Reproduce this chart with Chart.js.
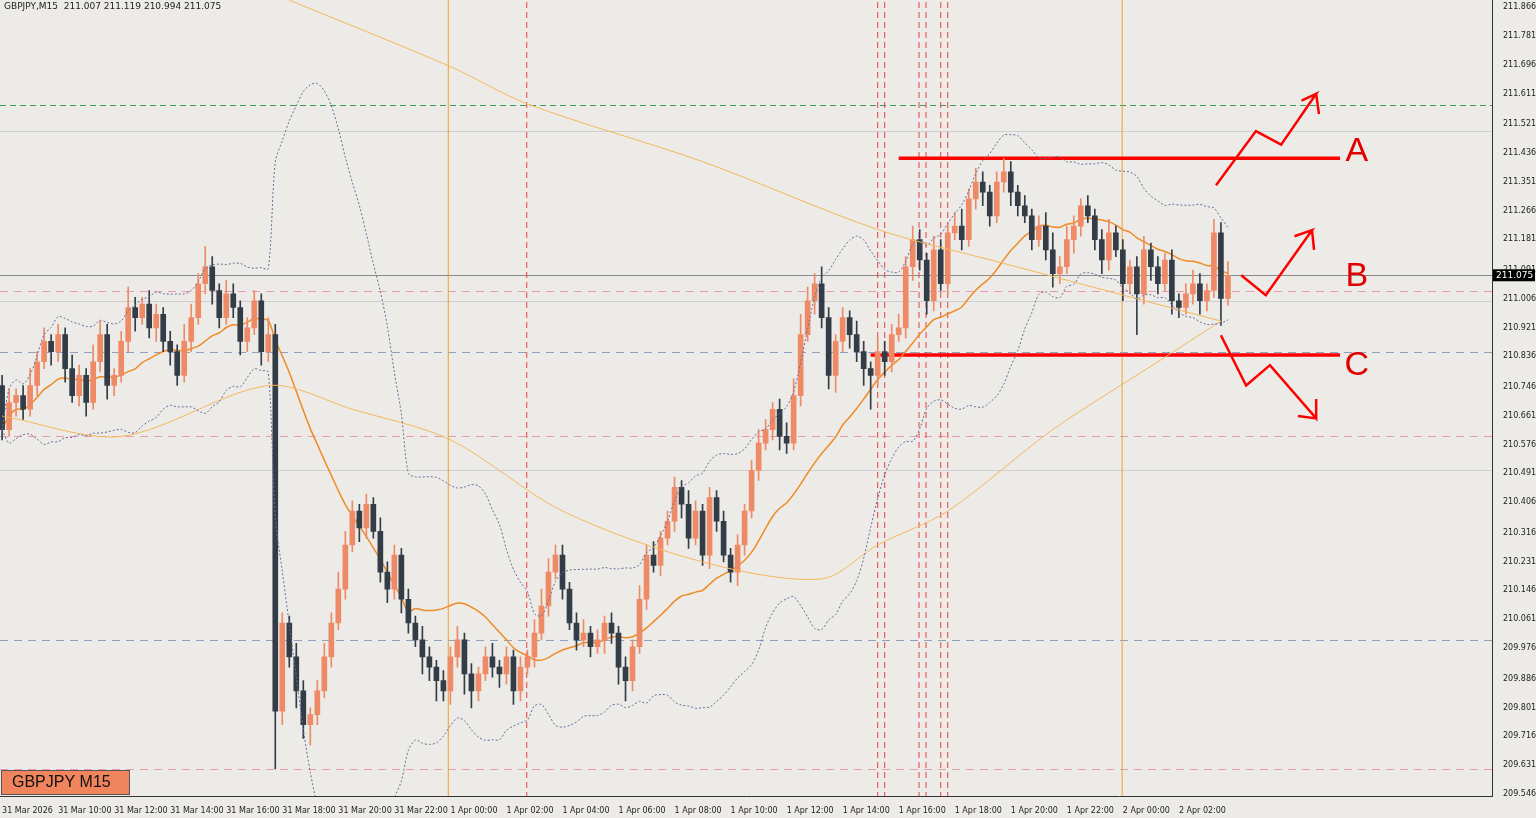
<!DOCTYPE html>
<html><head><meta charset="utf-8">
<script src="https://cdn.jsdelivr.net/npm/chart.js@4.4.1/dist/chart.umd.min.js"></script>
<style>html,body{margin:0;padding:0;background:#ecebe7;overflow:hidden;}#w{width:1536px;height:826px;margin-top:-8px;}</style>
</head><body><div id="w"><canvas id="c"></canvas></div>
<script>
const xLabels=["31 Mar 2026","31 Mar 10:00","31 Mar 12:00","31 Mar 14:00","31 Mar 16:00","31 Mar 18:00","31 Mar 20:00","31 Mar 22:00","1 Apr 00:00","1 Apr 02:00","1 Apr 04:00","1 Apr 06:00","1 Apr 08:00","1 Apr 10:00","1 Apr 12:00","1 Apr 14:00","1 Apr 16:00","1 Apr 18:00","1 Apr 20:00","1 Apr 22:00","2 Apr 00:00","2 Apr 02:00"];
const priceTicks=[211.866,211.781,211.696,211.611,211.521,211.436,211.351,211.266,211.181,211.091,211.006,210.921,210.836,210.746,210.661,210.576,210.491,210.406,210.316,210.231,210.146,210.061,209.976,209.886,209.801,209.716,209.631,209.546];
const closes=[210.62,210.70,210.72,210.68,210.75,210.82,210.88,210.85,
210.90,210.80,210.72,210.78,210.70,210.82,210.90,210.75,
210.78,210.88,210.98,210.95,210.99,210.92,210.96,210.88,
210.85,210.78,210.88,210.95,211.05,211.10,211.03,210.95,
211.02,210.98,210.88,210.92,211.00,210.85,210.90,209.79,
210.05,209.95,209.85,209.75,209.78,209.85,209.95,210.05,
210.15,210.28,210.38,210.33,210.40,210.32,210.20,210.15,
210.25,210.12,210.05,210.00,209.95,209.92,209.88,209.85,
209.95,210.00,209.90,209.85,209.90,209.95,209.92,209.90,
209.95,209.85,209.92,209.95,210.02,210.10,210.20,210.25,
210.15,210.05,210.00,210.02,209.98,210.00,210.05,210.02,
209.92,209.88,209.98,210.12,210.25,210.22,210.30,210.35,
210.45,210.40,210.30,210.38,210.25,210.42,210.35,210.25,
210.20,210.28,210.38,210.50,210.58,210.62,210.68,210.60,
210.58,210.72,210.90,211.00,211.05,210.95,210.78,210.88,
210.95,210.90,210.85,210.80,210.78,210.85,210.82,210.90,
210.92,211.10,211.18,211.12,211.00,211.15,211.05,211.20,
211.22,211.18,211.30,211.35,211.32,211.25,211.35,211.38,
211.32,211.28,211.25,211.18,211.22,211.15,211.08,211.10,
211.18,211.22,211.28,211.25,211.18,211.12,211.20,211.15,
211.05,211.10,211.02,211.15,211.10,211.05,211.12,211.00,
210.98,211.02,211.05,211.00,211.03,211.20,211.007,211.075];
const firstOpen=210.75;
const wickUp=[3,4,2,3,5,3,4,2,3,2,4,3,2,5,4,3,2,3,6,3,2,4,3,2,3,2,5,4,3,6,3,2,4,3,2,3,3,2,5,3,
3,2,4,3,2,3,4,3,5,4,3,2,3,2,4,3,3,2,3,2,4,3,2,3,3,4,2,3,2,3,4,2,3,2,3,2,4,5,4,3,
3,2,3,4,2,3,2,3,2,3,2,4,3,4,2,3,3,2,4,3,2,3,2,3,2,3,2,3,4,3,2,3,4,5,6,4,3,5,3,2,
3,2,4,3,2,4,3,3,4,3,4,3,2,4,3,3,4,5,3,4,3,2,3,4,3,2,3,2,3,4,5,3,4,3,2,3,2,3,4,2,
3,2,3,4,2,3,2,3,2,3,4,3,2,4,3,4];
const wickDn=[3,2,4,3,2,3,2,4,3,4,2,3,4,2,3,4,3,2,3,4,2,3,4,3,4,3,2,3,2,3,4,3,2,3,4,3,2,4,3,17,
4,3,5,4,6,3,2,3,2,3,2,4,3,2,3,4,3,4,3,2,5,4,6,3,4,3,6,5,3,2,3,4,3,4,3,2,3,2,3,2,
3,2,3,2,3,2,4,3,5,6,3,2,3,2,3,2,3,4,3,2,3,4,3,2,3,4,3,2,3,2,3,4,3,2,3,2,4,3,4,5,
3,4,3,5,10,3,4,3,2,3,4,3,4,3,2,3,2,3,2,3,4,3,2,3,4,3,2,3,2,3,4,3,2,4,3,2,3,4,3,2,
5,3,12,3,4,3,2,4,3,2,3,4,3,2,8,2];
const ma200Pts=[[41,211.886],[64,211.69],[75,211.58],[100,211.41],[125,211.21],[143,211.11],[174,210.94]];
const ma100Pts=[[0,210.66],[17,210.60],[38,210.75],[50,210.68],[64,210.59],[80,210.38],[100,210.23],[117,210.18],[125,210.28],[135,210.38],[150,210.62],[165,210.82],[174,210.94]];
const hLines=[[211.577,'#3c9a5a',[6,4]],[211.50,'#cfcfcf',[]],[211.075,'#8a8a8a',[]],[211.03,'#e89ab0',[8,6]],[211.0,'#cfcfcf',[]],[210.85,'#8ea2c0',[8,6]],[210.60,'#e89ab0',[8,6]],[210.50,'#d0d0d0',[]],[210.0,'#8ea2c0',[8,6]],[209.62,'#e89ab0',[8,6]]];
const vOrange=[63.7,159.9];
const vRed=[74.9,125,126,130.9,131.9,134,135];
const levelA=[[128,211.42],[191,211.42]];
const levelC=[[124,210.84],[191,210.84]];
const arrowA=[[173.3,211.34],[179,211.50],[182.6,211.46],[187.6,211.61],[185.5,211.59],[187.6,211.61],[188,211.55]];
const arrowB=[[176.9,211.075],[180.4,211.016],[187,211.208],[184.5,211.19],[187,211.208],[187.3,211.15]];
const arrowC=[[174,210.898],[177.6,210.75],[181,210.81],[187.6,210.653],[187.6,210.71],[187.6,210.653],[185,210.66]];

const opens=closes.map((c,i)=>i===0?firstOpen:closes[i-1]);
const highs=closes.map((c,i)=>Math.max(c,opens[i])+wickUp[i]/100);
const lows=closes.map((c,i)=>Math.min(c,opens[i])-wickDn[i]/100);
highs[39]=210.93;
const bull='#ef8a66',bear='#333d47';
const col=closes.map((c,i)=>c>=opens[i]?bull:bear);
function sma(n){return closes.map((_,i)=>{const s=Math.max(0,i-n+1);const a=closes.slice(s,i+1);return a.reduce((x,y)=>x+y,0)/a.length;});}
const ma20=sma(20);
const sd=closes.map((_,i)=>{const s=Math.max(0,i-19);const a=closes.slice(s,i+1);const m=ma20[i];return Math.sqrt(a.reduce((x,y)=>x+(y-m)*(y-m),0)/a.length);});
const pts=a=>a.map(p=>({x:p[0],y:p[1]}));
const ser=a=>a.map((v,i)=>({x:i,y:v}));
const lineDs=(data,color,w,dash)=>({type:'line',data,borderColor:color,borderWidth:w,borderDash:dash||[],pointRadius:0,fill:false,tension:0.3});

const overlay={id:'ov',
beforeDatasetsDraw(ch){const {ctx,chartArea:a,scales:{x,y}}=ch;ctx.save();
 hLines.forEach(h=>{const py=Math.round(y.getPixelForValue(h[0]))+0.5;ctx.strokeStyle=h[1];ctx.setLineDash(h[2]);ctx.lineWidth=1;ctx.beginPath();ctx.moveTo(a.left,py);ctx.lineTo(a.right,py);ctx.stroke();});
 vOrange.forEach(v=>{const px=x.getPixelForValue(v);ctx.strokeStyle='#f0a030';ctx.setLineDash([]);ctx.beginPath();ctx.moveTo(px,0);ctx.lineTo(px,a.bottom);ctx.stroke();});
 vRed.forEach(v=>{const px=x.getPixelForValue(v);ctx.strokeStyle='#e84040';ctx.setLineDash([6,4]);ctx.beginPath();ctx.moveTo(px,0);ctx.lineTo(px,a.bottom);ctx.stroke();});
 ctx.restore();},
afterDraw(ch){const {ctx,chartArea:a,scales:{x,y}}=ch;ctx.save();
 ctx.fillStyle='#222';ctx.font='9px "DejaVu Sans"';ctx.textBaseline='middle';ctx.fillText('GBPJPY,M15  211.007 211.119 210.994 211.075',4,15);
 ctx.fillStyle='#f0845c';ctx.fillRect(1,778,129,25);ctx.strokeStyle='#555';ctx.lineWidth=1;ctx.strokeRect(1.5,778.5,128,24);
 ctx.fillStyle='#111';ctx.font='16px "Liberation Sans"';ctx.fillText('GBPJPY M15',12,791);
 ctx.fillStyle='#e00000';ctx.font='34px "Liberation Sans"';ctx.textAlign='center';
 [['A',211.44],['B',211.07],['C',210.81]].forEach(t=>ctx.fillText(t[0],x.getPixelForValue(193.4),y.getPixelForValue(t[1])));
 const py=y.getPixelForValue(211.075);ctx.fillStyle='#000';ctx.fillRect(a.right+1,py-6,42,12);ctx.fillStyle='#fff';ctx.font='9px "DejaVu Sans"';ctx.textAlign='left';ctx.fillText('211.075',a.right+4,py);
 ctx.restore();}};

new Chart(document.getElementById('c'),{
data:{datasets:[
 lineDs(ser(ma20.map((m,i)=>m+2*sd[i])),'#6b6b9a',1,[2,2]),
 lineDs(ser(ma20.map((m,i)=>m-2*sd[i])),'#6b6b9a',1,[2,2]),
 lineDs(pts(ma200Pts),'#f5b75a',1),
 lineDs(pts(ma100Pts),'#f5b75a',1),
 {type:'bar',data:closes.map((c,i)=>({x:i,y:[lows[i],highs[i]]})),backgroundColor:col,barThickness:1,grouped:false},
 {type:'bar',data:closes.map((c,i)=>({x:i,y:[opens[i],c]})),backgroundColor:col,barThickness:5,grouped:false,minBarLength:1},
 lineDs(ser(ma20),'#f08a24',1.5),
 lineDs(pts(levelA),'#ff0000',3.5),
 lineDs(pts(levelC),'#ff0000',3.5),
 {...lineDs(pts(arrowA),'#ff0000',2.5),tension:0},
 {...lineDs(pts(arrowB),'#ff0000',2.5),tension:0},
 {...lineDs(pts(arrowC),'#ff0000',2.5),tension:0}
]},
options:{responsive:true,maintainAspectRatio:false,animation:false,
 plugins:{legend:{display:false},tooltip:{enabled:false}},
 layout:{padding:0},
 scales:{
  x:{type:'linear',min:-0.3,max:212.7,offset:false,grid:{display:false},border:{color:'#333'},
   afterBuildTicks(s){s.ticks=xLabels.map((_,k)=>({value:k*8}));},
   afterFit(s){s.height=22;},
   ticks:{autoSkip:false,maxRotation:0,color:'#222',font:{size:8,family:'DejaVu Sans'},callback:v=>xLabels[v/8]||'',align:'start',padding:2}},
  y:{type:'linear',position:'right',min:209.54,max:211.887,grid:{display:false},border:{color:'#333'},
   afterBuildTicks(s){s.ticks=priceTicks.map(v=>({value:v}));},
   afterFit(s){s.width=44;},
   ticks:{autoSkip:false,color:'#222',font:{size:8,family:'DejaVu Sans'},callback:v=>v.toFixed(3),padding:3}}
 }},
plugins:[overlay]});
</script></body></html>
